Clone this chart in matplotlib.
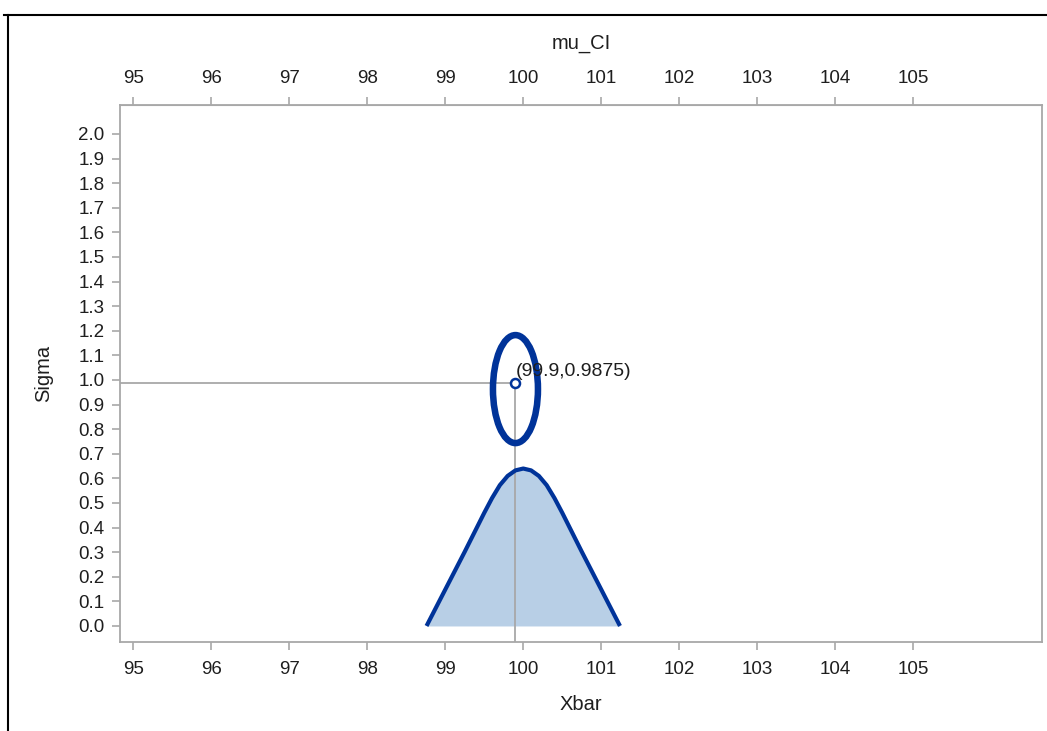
import matplotlib.pyplot as plt
from matplotlib.patches import Ellipse
from matplotlib.lines import Line2D

plt.rcParams['font.family'] = ['Liberation Sans', 'DejaVu Sans']

# estimate point
mu_hat = 99.9
sigma_hat = 0.9875

# joint confidence region for (mu, sigma)
region_center = (99.9, 0.963)
region_width = 0.577
region_height = 0.439

# density curve of Xbar
bell_x = [98.76, 99.0, 99.25, 99.5, 99.6, 99.7, 99.8, 99.9, 100.0,
          100.1, 100.2, 100.3, 100.4, 100.5, 100.75, 101.0, 101.24]
bell_y = [0.0, 0.148, 0.302, 0.46, 0.52, 0.5725, 0.61, 0.6325, 0.64,
          0.6325, 0.61, 0.5725, 0.52, 0.46, 0.302, 0.148, 0.0]

x_ticks = [95, 96, 97, 98, 99, 100, 101, 102, 103, 104, 105]
y_ticks = [i / 10 for i in range(21)]

dark_blue = '#003399'
light_blue = '#b8cfe6'
gray = '#a8a8a8'
txt = '#1e1e1e'

fig = plt.figure(figsize=(10.47, 7.31), dpi=100)
ax = fig.add_axes([0.1146, 0.1218, 0.8806, 0.7346])

xmin, xmax = 94.83, 106.65
ymin, ymax = -0.065, 2.118
ax.set_xlim(xmin, xmax)
ax.set_ylim(ymin, ymax)

# shaded density
ax.fill_between(bell_x, bell_y, 0, color=light_blue, lw=0, zorder=1)

# reference lines through the estimate
ax.plot([xmin, mu_hat], [sigma_hat, sigma_hat], color=gray, lw=1.3, zorder=2)
ax.plot([mu_hat, mu_hat], [ymin, sigma_hat], color=gray, lw=1.3, zorder=2)

ax.plot(bell_x, bell_y, color=dark_blue, lw=3.0, solid_capstyle='butt',
        solid_joinstyle='round', zorder=3)

ell = Ellipse(region_center, region_width, region_height, fill=False,
              edgecolor=dark_blue, lw=4.7, zorder=3)
ax.add_patch(ell)

ax.plot([mu_hat], [sigma_hat], marker='o', ms=6.5, mfc='white',
        mec=dark_blue, mew=1.8, zorder=4)
ax.annotate('(%g,%g)' % (mu_hat, sigma_hat), (mu_hat, sigma_hat),
            xytext=(0, 8.3), textcoords='offset points', ha='left',
            va='center', fontsize=14, color=txt, zorder=5)

for s in ax.spines.values():
    s.set_color(gray)
    s.set_linewidth(1.3)

ax.set_xticks(x_ticks)
ax.set_yticks(y_ticks)
ax.set_yticklabels(['%.1f' % v for v in y_ticks])
ax.tick_params(colors=gray, labelcolor=txt, labelsize=13.5, length=6, width=1.2, pad=5)
ax.tick_params(axis='x', pad=8)
ax.set_xlabel('Xbar', fontsize=14.5, color=txt, labelpad=12)
ax.set_ylabel('Sigma', fontsize=14.5, color=txt, labelpad=18)

top = ax.secondary_xaxis('top')
top.set_xticks(x_ticks)
top.spines['top'].set_color(gray)
top.tick_params(colors=gray, labelcolor=txt, labelsize=13.5, length=6, width=1.2, pad=7)
top.set_xlabel('mu_CI', fontsize=14.5, color=txt, labelpad=15)

# outer border
fig.add_artist(Line2D([0.004, 1.0], [0.9788, 0.9788], color='black', lw=1.5))
fig.add_artist(Line2D([0.0076, 0.0076], [0.0, 0.9788], color='black', lw=1.5))

fig.savefig('out.png', dpi=100, facecolor='white')
